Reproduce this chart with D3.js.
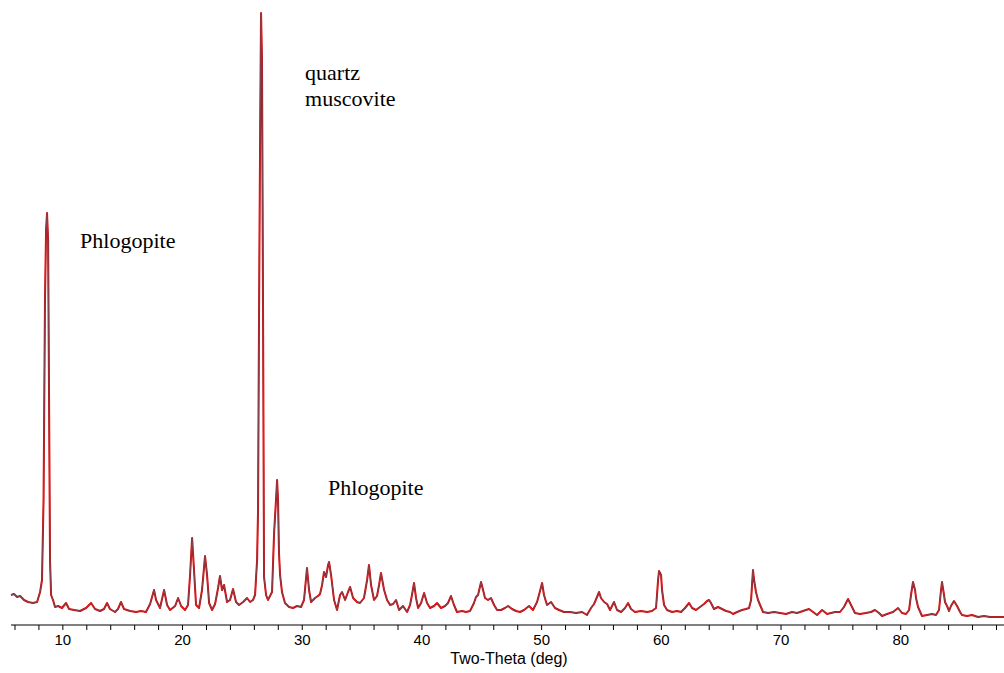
<!DOCTYPE html>
<html>
<head>
<meta charset="utf-8">
<script src="https://cdn.jsdelivr.net/npm/d3@7"></script>
<style>
  html, body { margin: 0; padding: 0; background: #fff; }
  svg { display: block; }
</style>
</head>
<body>
<svg id="chart" width="1004" height="673"></svg>
<script>
// Two-Theta angle (deg)
const twoTheta = [5.71,5.96,6.22,6.47,6.80,7.13,7.55,7.89,8.14,8.30,8.43,8.55,8.64,8.72,8.81,8.89,8.97,9.06,9.22,9.39,
9.64,9.97,10.31,10.56,10.98,11.48,11.98,12.40,12.73,13.15,13.48,13.73,13.98,14.40,14.65,14.90,15.15,15.66,16.16,16.57,
16.99,17.33,17.66,17.83,18.16,18.50,18.75,19.00,19.42,19.67,19.92,20.25,20.50,20.67,20.84,21.00,21.17,21.42,21.67,21.92,
22.09,22.26,22.51,22.76,23.01,23.17,23.34,23.51,23.76,24.01,24.26,24.51,24.76,25.10,25.43,25.68,25.93,26.10,26.27,26.35,
26.43,26.52,26.60,26.68,26.77,26.85,27.02,27.18,27.35,27.52,27.69,27.85,27.94,28.02,28.10,28.19,28.35,28.60,28.94,29.27,
29.61,29.94,30.19,30.44,30.61,30.78,31.11,31.36,31.53,31.70,31.86,32.03,32.20,32.28,32.45,32.70,32.95,33.20,33.37,33.62,
33.87,34.04,34.29,34.62,34.87,35.20,35.46,35.62,35.79,36.04,36.29,36.46,36.62,36.88,37.13,37.38,37.63,37.88,38.13,38.46,
38.80,39.05,39.21,39.38,39.55,39.72,39.97,40.22,40.47,40.72,41.05,41.30,41.64,41.97,42.22,42.47,42.72,42.97,43.39,43.73,
44.06,44.39,44.56,44.73,44.98,45.15,45.31,45.56,45.81,46.07,46.32,46.65,46.98,47.24,47.57,47.90,48.24,48.57,48.99,49.32,
49.66,49.82,50.08,50.24,50.49,50.83,51.16,51.50,51.91,52.41,52.92,53.42,53.83,54.17,54.42,54.67,54.84,55.00,55.26,55.51,
55.76,56.09,56.34,56.68,57.01,57.26,57.51,57.84,58.35,58.85,59.26,59.60,59.68,59.77,59.85,60.02,60.10,60.27,60.52,60.94,
61.35,61.69,62.02,62.36,62.61,62.94,63.27,63.61,63.86,64.03,64.19,64.44,64.78,65.11,65.45,65.78,66.03,66.37,66.78,67.12,
67.37,67.54,67.62,67.70,67.79,67.95,68.12,68.29,68.54,68.96,69.46,69.96,70.46,70.96,71.38,71.88,72.38,72.72,73.05,73.47,
73.89,74.22,74.55,74.97,75.30,75.64,75.89,76.22,76.64,77.14,77.56,77.89,78.23,78.48,78.90,79.40,79.82,80.15,80.48,80.74,
80.90,81.07,81.24,81.32,81.49,81.82,82.24,82.66,82.99,83.24,83.41,83.49,83.66,83.74,83.91,84.08,84.24,84.49,84.75,85.00,
85.16,85.58,86.00,86.50,87.00,87.50,88.00,88.67];

// Intensity (counts, arbitrary)
const intensity = [300,310,280,290,250,230,220,230,330,450,1250,3250,3950,4120,3850,2250,650,300,250,180,
190,170,220,160,150,140,170,220,160,140,160,220,160,130,160,230,160,140,130,140,
130,210,350,250,170,350,200,150,190,270,190,150,200,500,870,550,200,170,350,690,
500,220,150,210,370,490,350,400,230,250,360,230,200,230,270,230,250,300,650,1150,
3050,4850,6120,5650,3050,480,300,250,290,330,920,1250,1450,1250,720,500,330,220,180,170,
190,180,250,570,350,230,270,290,310,400,530,480,600,630,500,250,150,300,330,250,
330,380,270,230,220,270,450,600,400,250,290,400,520,350,250,200,210,250,150,190,
130,200,300,420,270,170,220,320,220,170,190,220,170,190,220,290,200,130,140,130,
140,220,280,300,430,350,270,250,270,200,150,150,170,190,160,140,130,150,190,150,
230,300,420,300,200,230,170,150,130,130,120,130,100,170,210,280,330,270,230,210,
150,230,150,130,170,220,160,130,140,130,140,170,300,450,540,500,350,200,150,130,
140,130,170,220,170,150,180,210,240,250,220,160,180,160,140,130,110,130,150,160,
170,250,400,550,450,330,250,200,130,120,130,120,110,130,120,140,160,130,100,150,
110,120,130,130,180,260,200,120,110,120,130,150,120,90,110,130,170,120,110,150,
300,430,350,270,180,90,100,110,100,150,350,430,300,230,190,140,190,240,190,130,
100,90,100,80,90,80,80,80];

const tickValues = [6,8,10,12,14,16,18,20,22,24,26,28,30,32,34,36,38,40,42,44,46,48,50,52,54,56,58,60,62,64,66,68,70,72,74,76,78,80,82,84,86,88];
const tickLabels = [10,20,30,40,50,60,70,80];

const annotations = [
  {text: "Phlogopite", x: 11.48, y: 3770},
  {text: "quartz", x: 30.28, y: 5450},
  {text: "muscovite", x: 30.28, y: 5190},
  {text: "Phlogopite", x: 32.2, y: 1300}
];
const axisTitle = "Two-Theta (deg)";

const data = twoTheta.map((t, i) => ({t, v: intensity[i]}));

const svg = d3.select("#chart");
const x = d3.scaleLinear().domain([5.71, 88.67]).range([11, 1004]);
const y = d3.scaleLinear().domain([0, 6250]).range([625, 0]);

const line = d3.line().x(d => x(d.t)).y(d => y(d.v));

svg.append("path").datum(data)
  .attr("d", line).attr("fill", "none")
  .attr("stroke", "#dd0000").attr("stroke-width", 2)
  .attr("stroke-linejoin", "round");
svg.append("path").datum(data)
  .attr("d", line).attr("fill", "none")
  .attr("stroke", "#7e4652").attr("stroke-width", 1)
  .attr("stroke-linejoin", "round");

const axis = d3.axisBottom(x)
  .tickValues(tickValues)
  .tickSize(5)
  .tickFormat(d => tickLabels.includes(d) ? d : "");

const g = svg.append("g").attr("transform", "translate(0,625)").call(axis);
g.select(".domain").attr("stroke", "#000").attr("d", "M11,0H1004");
g.selectAll(".tick line").attr("stroke", "#000");
g.selectAll(".tick text")
  .attr("fill", "#000").attr("y", 9)
  .style("font-family", "'Liberation Sans', Arial, sans-serif")
  .style("font-size", "15px");

svg.append("text")
  .attr("x", 509).attr("y", 664)
  .attr("text-anchor", "middle")
  .style("font-family", "'Liberation Sans', Arial, sans-serif")
  .style("font-size", "16px")
  .attr("fill", "#000")
  .text(axisTitle);

svg.selectAll(".ann").data(annotations).enter().append("text")
  .attr("class", "ann")
  .attr("x", d => x(d.x)).attr("y", d => y(d.y))
  .style("font-family", "'Liberation Serif', 'Times New Roman', serif")
  .style("font-size", "22px")
  .attr("fill", "#000")
  .text(d => d.text);
</script>
</body>
</html>
